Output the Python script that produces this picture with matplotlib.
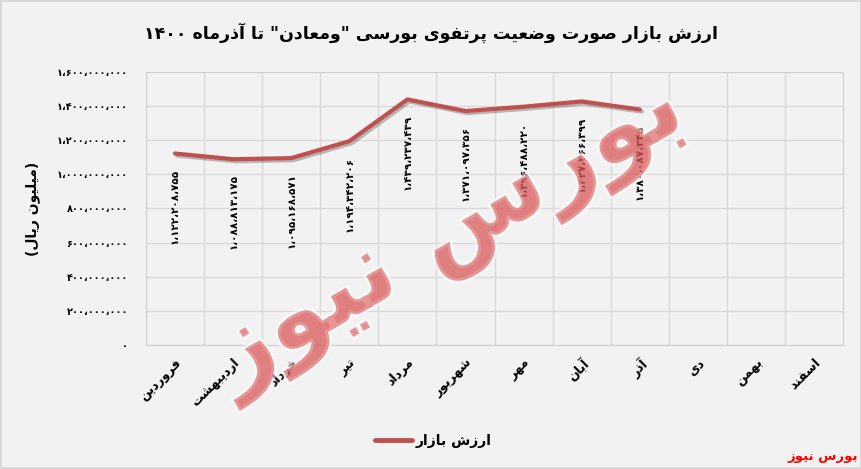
import re
import matplotlib
matplotlib.use("Agg")
import matplotlib.pyplot as plt
import matplotlib.patheffects as pe
from matplotlib.lines import Line2D
from matplotlib.ticker import FuncFormatter, MultipleLocator

# data (month names, values in million rial)
months = ["فروردین", "اردیبهشت", "خرداد", "تیر", "مرداد", "شهریور",
          "مهر", "آبان", "آذر", "دی", "بهمن", "اسفند"]
values = [1122208755, 1088813175, 1095168571, 1194342206, 1439237439,
          1371097356, 1396488220, 1427366399, 1380087345]
title = 'ارزش بازار صورت وضعیت پرتفوی بورسی "ومعادن" تا آذرماه ۱۴۰۰'
ylabel = "(میلیون ریال)"
series_name = "ارزش بازار"
source = "بورس نیوز"

# simple persian shaping (matplotlib draws no joined forms by itself)
FORMS = {
    "ا": ("\uFE8D", "\uFE8E", None, None),
    "آ": ("\uFE81", "\uFE82", None, None),
    "ب": ("\uFE8F", "\uFE90", "\uFE91", "\uFE92"),
    "پ": ("\uFB56", "\uFB57", "\uFB58", "\uFB59"),
    "ت": ("\uFE95", "\uFE96", "\uFE97", "\uFE98"),
    "خ": ("\uFEA5", "\uFEA6", "\uFEA7", "\uFEA8"),
    "د": ("\uFEA9", "\uFEAA", None, None),
    "ذ": ("\uFEAB", "\uFEAC", None, None),
    "ر": ("\uFEAD", "\uFEAE", None, None),
    "ز": ("\uFEAF", "\uFEB0", None, None),
    "ژ": ("\uFB8A", "\uFB8B", None, None),
    "س": ("\uFEB1", "\uFEB2", "\uFEB3", "\uFEB4"),
    "ش": ("\uFEB5", "\uFEB6", "\uFEB7", "\uFEB8"),
    "ص": ("\uFEB9", "\uFEBA", "\uFEBB", "\uFEBC"),
    "ض": ("\uFEBD", "\uFEBE", "\uFEBF", "\uFEC0"),
    "ع": ("\uFEC9", "\uFECA", "\uFECB", "\uFECC"),
    "ف": ("\uFED1", "\uFED2", "\uFED3", "\uFED4"),
    "ق": ("\uFED5", "\uFED6", "\uFED7", "\uFED8"),
    "ک": ("\uFB8E", "\uFB8F", "\uFB90", "\uFB91"),
    "ل": ("\uFEDD", "\uFEDE", "\uFEDF", "\uFEE0"),
    "م": ("\uFEE1", "\uFEE2", "\uFEE3", "\uFEE4"),
    "ن": ("\uFEE5", "\uFEE6", "\uFEE7", "\uFEE8"),
    "ه": ("\uFEE9", "\uFEEA", "\uFEEB", "\uFEEC"),
    "و": ("\uFEED", "\uFEEE", None, None),
    "ی": ("\uFBFC", "\uFBFD", "\uFBFE", "\uFBFF"),
}


def fa(text):
    out = []
    for i, c in enumerate(text):
        if c not in FORMS:
            out.append(c)
            continue
        prev = text[i - 1] if i > 0 else ""
        nxt = text[i + 1] if i + 1 < len(text) else ""
        jp = prev in FORMS and FORMS[prev][2] is not None
        jn = nxt in FORMS and FORMS[c][2] is not None
        iso, fin, ini, med = FORMS[c]
        if jp and jn:
            out.append(med)
        elif jp:
            out.append(fin)
        elif jn:
            out.append(ini)
        else:
            out.append(iso)
    toks = re.findall(r"[۰-۹0-9]+|.", "".join(out))[::-1]
    swap = {"(": ")", ")": "("}
    return "".join(swap.get(t, t) for t in toks)


def fa_num(v):
    s = f"{int(v):,}".replace(",", "،")
    return s.translate(str.maketrans("0123456789", "۰۱۲۳۴۵۶۷۸۹"))


plt.rcParams["font.family"] = ["DejaVu Sans"]
bg = "#f2f2f2"
red = "#c0504d"

fig = plt.figure(figsize=(8.62, 4.69), dpi=100, facecolor=bg)
fig.patch.set_edgecolor("#d9d9d9")
fig.patch.set_linewidth(1.5)
ax = fig.add_axes([0.1694, 0.2644, 0.8086, 0.5821], facecolor=bg)

x = list(range(len(values)))
ax.plot(x, values, color=red, lw=3, solid_capstyle="round", zorder=3,
        path_effects=[pe.SimpleLineShadow(offset=(1.5, -1.5), alpha=0.25),
                      pe.Normal()])

for xi, v in zip(x, values):
    ax.annotate(fa_num(v), (xi, v), xytext=(0, -11), textcoords="offset points",
                rotation=90, ha="center", va="top", fontsize=7.5,
                fontweight="bold", color="black", zorder=4)

ax.set_xlim(-0.5, len(months) - 0.5)
ax.set_ylim(0, 1.6e9)
ax.yaxis.set_major_locator(MultipleLocator(2e8))
ax.yaxis.set_major_formatter(FuncFormatter(lambda v, p: fa_num(v)))
ax.set_xticks(range(len(months)))
ax.set_xticklabels([fa(m) for m in months], rotation=45, ha="right",
                   rotation_mode="anchor", fontsize=9, fontweight="bold")
ax.set_xticks([i - 0.5 for i in range(len(months) + 1)], minor=True)
for lab in ax.get_yticklabels():
    lab.set_fontweight("bold")
    lab.set_fontsize(7)
ax.tick_params(axis="both", which="both", length=0)
ax.tick_params(axis="y", pad=13)
ax.tick_params(axis="x", pad=8)
ax.grid(True, axis="y", which="major", color="#d9d9d9", lw=1)
ax.grid(True, axis="x", which="minor", color="#d9d9d9", lw=1)
ax.set_axisbelow(True)
for s in ax.spines.values():
    s.set_color("#d0d0d0")

ax.set_ylabel(fa(ylabel), fontsize=10, fontweight="bold")
ax.yaxis.set_label_coords(-0.152, 0.5)
fig.text(0.5, 0.93, fa(title), ha="center", va="center", fontsize=12.5,
         fontweight="bold")

handle = Line2D([], [], color=red, lw=3.5, solid_capstyle="round")
ax.legend([handle], [fa(series_name)], loc="center", bbox_to_anchor=(0.503, 0.06),
          bbox_transform=fig.transFigure, frameon=False, handlelength=2.6,
          handletextpad=0.3, prop={"weight": "bold", "size": 10})

fig.text(0.995, 0.012, fa(source), ha="right", va="bottom", color="red",
         fontsize=9.5, fontweight="bold")

# watermark
fig.text(0.52, 0.5, fa(source), ha="center", va="center", fontsize=72,
         fontweight="bold", color="#dc5a5a", alpha=0.5, rotation=30, zorder=10,
         path_effects=[pe.withStroke(linewidth=4, foreground="white")])

fig.savefig("out.png", dpi=100, facecolor=bg)
